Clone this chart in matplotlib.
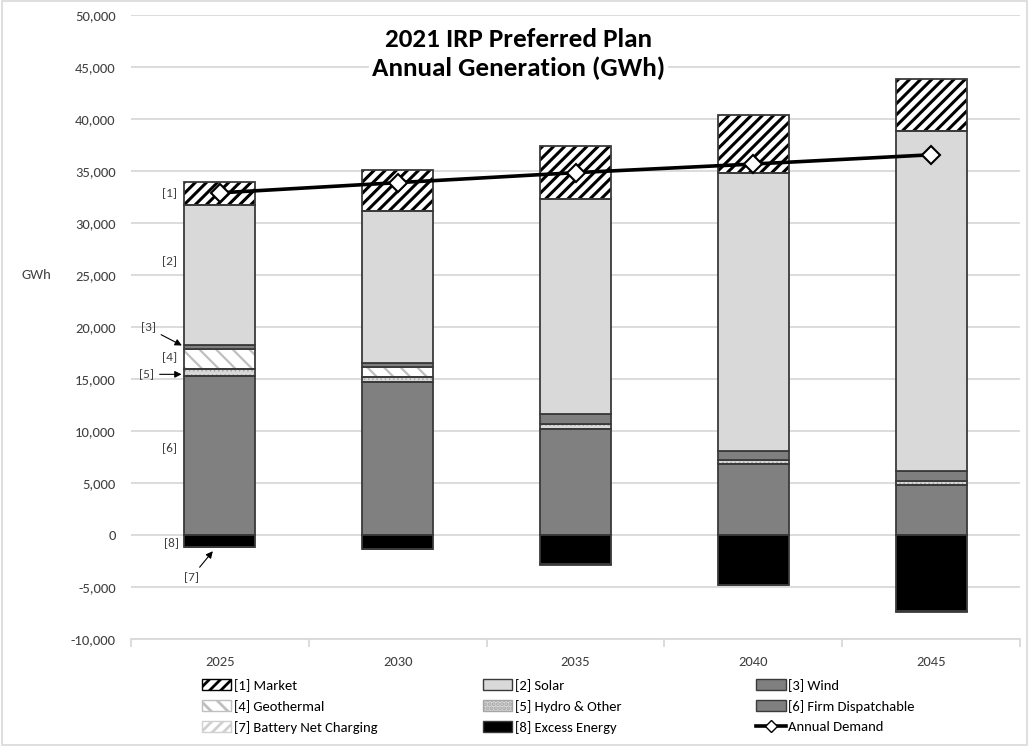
import matplotlib
matplotlib.use("Agg")
import matplotlib.pyplot as plt
from matplotlib.patches import Patch, Rectangle
from matplotlib.lines import Line2D
from matplotlib.ticker import FuncFormatter, FixedLocator
import numpy as np

# -------- data (GWh) -------------------------------------------------------- #
years = ["2025", "2030", "2035", "2040", "2045"]
firm = [15300, 14750, 10220, 6790, 4810]
hydro = [700, 420, 500, 390, 350]
geothermal = [1870, 960, 0, 0, 0]
wind = [400, 380, 890, 930, 960]
solar = [13430, 14670, 20670, 26730, 32760]
market = [2200, 3920, 5130, 5540, 4920]
excess = [-1150, -1300, -2790, -4780, -7340]
battery = [-40, -40, -50, -60, -70]
demand = [32900, 33880, 34840, 35670, 36560]

FONT = ["Carlito", "Liberation Sans Narrow", "DejaVu Sans"]
plt.rcParams["font.family"] = FONT
plt.rcParams["hatch.linewidth"] = 2.0

EDGE = "#3a3a3a"
GRID = "#d9d9d9"
TXT = "#404040"

# name -> face, hatch, hatch colour, hatch linewidth
STYLE = {
    "market":  ("white",   "///",   "black",   2.2),
    "solar":   ("#d9d9d9", None,    None,      0),
    "wind":    ("#7f7f7f", None,    None,      0),
    "geo":     ("white",   "\\\\",  "#bfbfbf", 1.6),
    "hydro":   ("#d9d9d9", "....",  "#a6a6a6", 0.6),
    "firm":    ("#808080", None,    None,      0),
    "battery": ("white",   "///",   "#d0d0d0", 1.2),
    "excess":  ("black",   None,    None,      0),
}

fig = plt.figure(figsize=(10.29, 7.46), dpi=100)
ax = fig.add_axes([0.1273, 0.1434, 0.864, 0.8365])
fig.patches.append(Rectangle((0.002, 0.002), 0.996, 0.996, transform=fig.transFigure,
                             fill=False, edgecolor=GRID, linewidth=1.2))

x = np.arange(len(years))
W = 0.4


def stack(vals, base, key):
    face, hatch, hcol, hlw = STYLE[key]
    if hatch:
        ax.bar(x, vals, W, bottom=base, color=face, linewidth=0, zorder=2)
        with plt.rc_context({"hatch.linewidth": hlw}):
            ax.bar(x, vals, W, bottom=base, color="none", edgecolor=hcol,
                   hatch=hatch, linewidth=0, zorder=2.5)
        ax.bar(x, vals, W, bottom=base, color="none", edgecolor=EDGE,
               linewidth=1.3, zorder=3)
    else:
        ax.bar(x, vals, W, bottom=base, color=face, edgecolor=EDGE,
               linewidth=1.3, zorder=3)
    return base + np.array(vals)


base = np.zeros(len(years))
for vals, key in [(firm, "firm"), (hydro, "hydro"), (geothermal, "geo"),
                  (wind, "wind"), (solar, "solar"), (market, "market")]:
    base = stack(vals, base, key)

neg = np.zeros(len(years))
neg = stack(excess, neg, "excess")
neg = stack(battery, neg, "battery")

ax.plot(x, demand, color="black", linewidth=2.6, marker="D", markersize=9,
        markerfacecolor="white", markeredgecolor="black", markeredgewidth=1.5,
        zorder=6)

# axes cosmetics
ax.set_xlim(-0.5, 4.5)
ax.set_ylim(-10000, 50000)
ax.set_yticks(np.arange(-10000, 50001, 5000))
ax.yaxis.set_major_formatter(FuncFormatter(lambda v, _: f"{v:,.0f}"))
ax.grid(axis="y", color=GRID, linewidth=1.3, zorder=0)
ax.set_axisbelow(True)
for s in ["left", "right", "top"]:
    ax.spines[s].set_visible(False)
ax.spines["bottom"].set_color(GRID)
ax.spines["bottom"].set_linewidth(1.3)
ax.tick_params(axis="y", length=0, pad=11, labelsize=10.5, labelcolor=TXT)
ax.set_xticks(x)
ax.set_xticklabels(years)
ax.tick_params(axis="x", which="major", length=0, pad=12, labelsize=10.5,
               labelcolor=TXT)
ax.xaxis.set_minor_locator(FixedLocator(np.arange(-0.5, 4.6, 1)))
ax.tick_params(axis="x", which="minor", length=6, color=GRID, width=1.3)

ax.text(-1.03, 25000, "GWh", fontsize=10.5, color=TXT, ha="center", va="center")

ax.text(1.68, 46250, "2021 IRP Preferred Plan\nAnnual Generation (GWh)",
        fontsize=19.5, fontweight="bold", ha="center", va="center",
        linespacing=1.3, zorder=7,
        bbox=dict(facecolor="white", edgecolor="none", pad=2))

# callout labels on the first bar
lab = dict(fontsize=9.5, color=TXT, ha="right", va="center", zorder=7)
arw = dict(arrowstyle="-|>", color="black", lw=0.8, mutation_scale=10)
ax.text(-0.24, demand[0] - 100, "[1]", **lab)
ax.text(-0.24, 26300, "[2]", **lab)
ax.annotate("[3]", xy=(-0.2, 18100), xytext=(-0.36, 19900), arrowprops=arw, **lab)
ax.text(-0.24, 17100, "[4]", **lab)
ax.annotate("[5]", xy=(-0.2, 15450), xytext=(-0.37, 15450), arrowprops=arw, **lab)
ax.text(-0.24, 8400, "[6]", **lab)
ax.text(-0.23, -700, "[8]", **lab)
ax.annotate("[7]", xy=(-0.03, -1350), xytext=(-0.12, -4100), arrowprops=arw,
            fontsize=9.5, color=TXT, ha="right", va="center", zorder=7)


def leg_handle(key, label):
    face, hatch, hcol, _ = STYLE[key]
    if hatch:
        return Patch(facecolor=face, edgecolor=hcol, hatch=hatch, label=label)
    return Patch(facecolor=face, edgecolor=EDGE, label=label)


columns = [
    [("market", "[1] Market"), ("geo", "[4] Geothermal"),
     ("battery", "[7] Battery Net Charging")],
    [("solar", "[2] Solar"), ("hydro", "[5] Hydro & Other"),
     ("excess", "[8] Excess Energy")],
    [("wind", "[3] Wind"), ("firm", "[6] Firm Dispatchable"), (None, "Annual Demand")],
]
col_x = [0.189, 0.462, 0.728]
for cx, col in zip(col_x, columns):
    handles = []
    for key, label in col:
        if key is None:
            handles.append(Line2D([], [], color="black", linewidth=2.6, marker="D",
                                  markersize=6, markerfacecolor="white",
                                  markeredgecolor="black", label=label))
        else:
            handles.append(leg_handle(key, label))
    fig.legend(handles=handles, loc="upper left", bbox_to_anchor=(cx, 0.1),
               frameon=False, fontsize=10.5, handlelength=2.0, handleheight=0.7,
               handletextpad=0.2, labelspacing=0.55, borderpad=0)

fig.savefig("out.png", dpi=100)
